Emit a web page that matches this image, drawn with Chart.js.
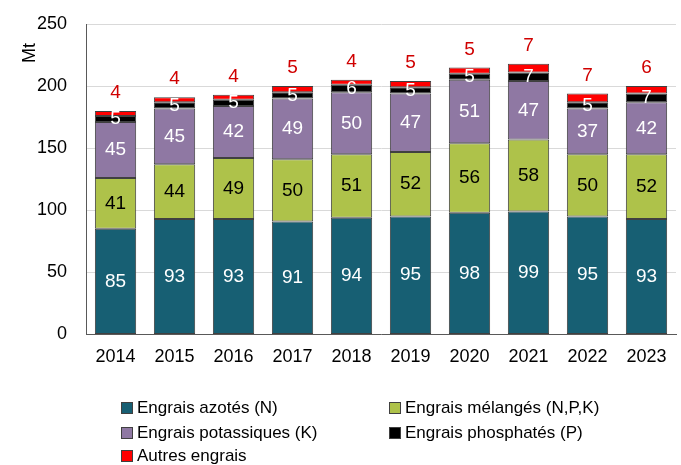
<!DOCTYPE html>
<html>
<head>
<meta charset="utf-8">
<script src="https://cdn.jsdelivr.net/npm/chart.js@4.4.1/dist/chart.umd.min.js"></script>
<style>
  html, body { margin: 0; padding: 0; background: #fff; }
  #wrap { width: 681px; height: 465px; }
</style>
</head>
<body>
<div id="wrap"><canvas id="chart"></canvas></div>
<script>
// Data (Mt)
const years = ["2014", "2015", "2016", "2017", "2018", "2019", "2020", "2021", "2022", "2023"];
const azotes = [85, 93, 93, 91, 94, 95, 98, 99, 95, 93];
const melanges = [41, 44, 49, 50, 51, 52, 56, 58, 50, 52];
const potassiques = [45, 45, 42, 49, 50, 47, 51, 47, 37, 42];
const phosphates = [5, 5, 5, 5, 6, 5, 5, 7, 5, 7];
const autres = [4, 4, 4, 5, 4, 5, 5, 7, 7, 6];
const yTicks = [0, 50, 100, 150, 200, 250];

const FONT = "'Liberation Sans', Arial, sans-serif";
Chart.defaults.font.family = FONT;
Chart.defaults.color = "#000";

function ds(label, data, color, labelColor) {
  return {
    label: label,
    data: data,
    backgroundColor: color,
    borderColor: "#404040",
    borderWidth: 1,
    borderSkipped: false,
    labelColor: labelColor
  };
}

// draws the value in each segment, "Autres" above the bar
const valueLabels = {
  id: "valueLabels",
  afterDatasetsDraw(chart) {
    const ctx = chart.ctx;
    ctx.save();
    ctx.font = "19px " + FONT;
    ctx.textAlign = "center";
    ctx.textBaseline = "middle";
    chart.data.datasets.forEach((d, i) => {
      const meta = chart.getDatasetMeta(i);
      meta.data.forEach((bar, j) => {
        ctx.fillStyle = d.labelColor;
        let y = (bar.y + bar.base) / 2;
        if (i === chart.data.datasets.length - 1) y = bar.y - 18;
        ctx.fillText(String(d.data[j]), bar.x, y);
      });
    });
    ctx.restore();
  }
};

// two-column legend and "Mt" axis title
const legendCols = {
  id: "legendCols",
  afterDraw(chart) {
    const ctx = chart.ctx;
    ctx.save();
    ctx.font = "17px " + FONT;
    ctx.textBaseline = "middle";
    ctx.textAlign = "left";
    const colX = [121, 389];
    const rowY = [408, 433, 456];
    chart.data.datasets.forEach((d, i) => {
      const x = colX[i % 2];
      const y = rowY[Math.floor(i / 2)];
      ctx.fillStyle = d.backgroundColor;
      ctx.fillRect(x, y - 6, 12, 12);
      ctx.strokeStyle = "#404040";
      ctx.lineWidth = 1;
      ctx.strokeRect(x + 0.5, y - 5.5, 11, 11);
      ctx.fillStyle = "#000";
      ctx.fillText(d.label, x + 16, y);
    });
    ctx.translate(30, 53);
    ctx.rotate(-Math.PI / 2);
    ctx.textAlign = "center";
    ctx.font = "18px " + FONT;
    ctx.fillText("Mt", 0, 0);
    ctx.restore();
  }
};

new Chart(document.getElementById("chart"), {
  type: "bar",
  data: {
    labels: years,
    datasets: [
      ds("Engrais azotés (N)", azotes, "#175F73", "#fff"),
      ds("Engrais mélangés (N,P,K)", melanges, "#AEC24A", "#000"),
      ds("Engrais potassiques (K)", potassiques, "#8F78A3", "#fff"),
      ds("Engrais phosphatés (P)", phosphates, "#000000", "#fff"),
      ds("Autres engrais", autres, "#FF0000", "#D00000")
    ]
  },
  options: {
    responsive: true,
    maintainAspectRatio: false,
    animation: false,
    layout: { padding: { left: 18, right: 5, top: 24, bottom: 85 } },
    datasets: { bar: { categoryPercentage: 1, barPercentage: 0.7 } },
    plugins: {
      legend: { display: false },
      tooltip: { enabled: false }
    },
    scales: {
      x: {
        stacked: true,
        grid: { display: false, drawTicks: false },
        border: { display: true, color: "#595959" },
        ticks: { padding: 12, font: { size: 18 } }
      },
      y: {
        stacked: true,
        min: 0,
        max: 250,
        afterBuildTicks: (axis) => { axis.ticks = yTicks.map(v => ({ value: v })); },
        grid: { color: "#D9D9D9", drawTicks: false },
        border: { display: true, color: "#595959" },
        ticks: { padding: 19, font: { size: 18, lineHeight: 0.5 } }
      }
    }
  },
  plugins: [valueLabels, legendCols]
});
</script>
</body>
</html>
